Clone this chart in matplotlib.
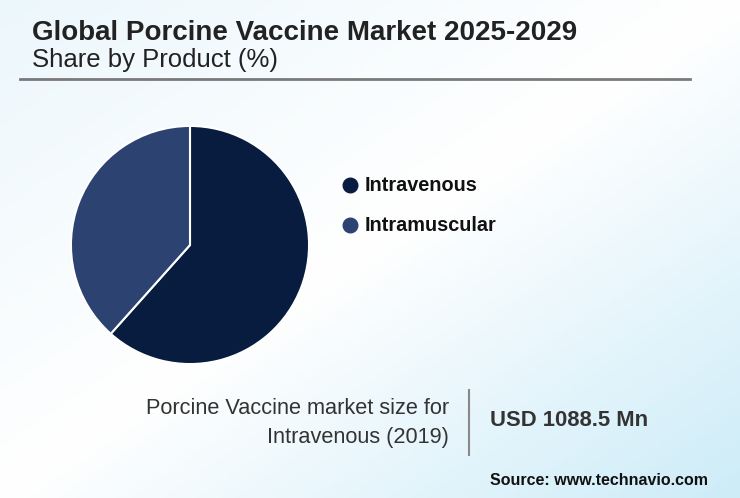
"""
Porcine vaccine market share by product, technavio style card
"""

import matplotlib.pyplot as plt
import numpy as np
from matplotlib.colors import LinearSegmentedColormap

plt.rcParams["font.family"] = ["Liberation Sans", "DejaVu Sans"]

TITLE = "Global Porcine Vaccine Market 2025-2029"
SUBTITLE = "Share by Product (%)"
PRODUCTS = ["Intravenous", "Intramuscular"]
SHARES = [61.6, 38.4]
COLORS = ["#081c3f", "#2c4270"]
SIZE_LABEL = "Porcine Vaccine market size for\nIntravenous (2019)"
SIZE_VALUE = "USD 1088.5 Mn"
SOURCE = "Source: www.technavio.com"

W, H = 740, 498

fig = plt.figure(figsize=(W / 100, H / 100), dpi=100)

# background card with a soft diagonal gradient
bg = fig.add_axes([0, 0, 1, 1])
bg.set_xlim(0, W)
bg.set_ylim(H, 0)
bg.axis("off")
xx, yy = np.meshgrid(np.linspace(0, 1, 200), np.linspace(0, 1, 140))
grad = (xx + yy) / 2
cmap = LinearSegmentedColormap.from_list(
    "card", [(0, "#ecf7fc"), (0.5, "#ffffff"), (1, "#cdecf8")]
)
bg.imshow(grad, cmap=cmap, extent=[0, W, H, 0], aspect="auto", zorder=0)

bg.text(32, 40, TITLE, fontsize=20, fontweight="bold", color="#222222")
bg.text(32, 67, SUBTITLE, fontsize=18.5, color="#222222")
bg.plot([20, 690], [78.5, 78.5], color="#7a7a7a", lw=2)

# legend
for i, (name, col) in enumerate(zip(PRODUCTS, COLORS)):
    y = 185 + i * 40
    bg.scatter([350], [y], s=110, color=col, zorder=3)
    bg.text(365, y, name, fontsize=14.3, fontweight="bold", color="#111111",
            va="center")

bg.text(449, 423, SIZE_LABEL, fontsize=15.7, color="#333333", ha="right",
        va="center", linespacing=1.45)
bg.plot([469, 469], [390, 455], color="#888888", lw=1.5)
bg.text(490, 420, SIZE_VALUE, fontsize=15.8, fontweight="bold",
        color="#333333", va="center")
bg.text(490, 480, SOURCE, fontsize=11.5, fontweight="bold", color="#111111",
        va="center")

# pie
cx, cy, r = 190, 245, 120
ax = fig.add_axes([(cx - r) / W, (H - cy - r) / H, 2 * r / W, 2 * r / H])
ax.pie(SHARES, colors=COLORS, startangle=90, counterclock=False,
       wedgeprops={"edgecolor": "white", "linewidth": 1.5})
ax.set_xlim(-1.008, 1.008)
ax.set_ylim(-1.008, 1.008)
ax.set_aspect("equal")
ax.axis("off")

fig.savefig("out.png", dpi=100)
